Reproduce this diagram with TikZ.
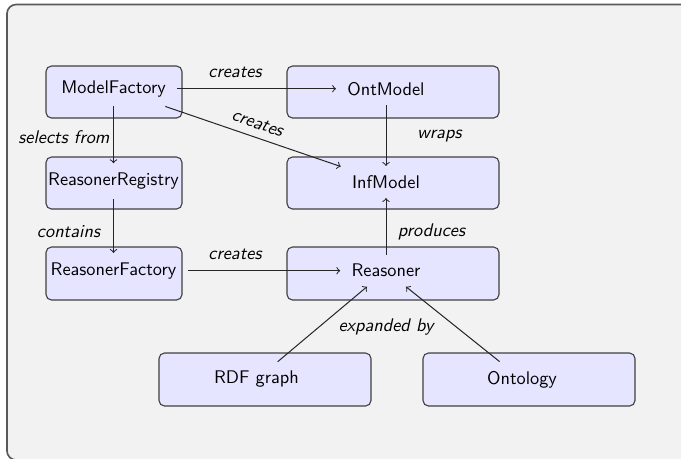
\documentclass[tikz,border=0pt]{standalone}
\begin{document}
\begin{tikzpicture}[x=0.546pt,y=-0.546pt,
 box/.style={draw=black!75, line width=0.6pt, fill=blue!10, rounded corners=3pt},
 txt/.style={inner xsep=6pt, inner ysep=5pt, font=\sffamily},
 lbl/.style={anchor=base, inner sep=0pt, font=\sffamily\itshape},
 con/.style={->, black!85, line width=0.55pt}]
\useasboundingbox (0,0) rectangle (681,458);
\clip (0,0) rectangle (681,458);
\draw[black!65, line width=0.9pt, fill=black!5, rounded corners=5pt] (7,4.5) rectangle (720,460);

% boxes
\draw[box] (46,66) rectangle (182,118);
\draw[box] (287,66) rectangle (499,118);
\draw[box] (46,157) rectangle (182,209);
\draw[box] (287,157) rectangle (499,209);
\draw[box] (46,247) rectangle (182,300);
\draw[box] (287,247) rectangle (499,300);
\draw[box] (159,353) rectangle (371,406);
\draw[box] (423,353) rectangle (635,406);

 \node (MF) at (113.5,88.7) [txt]{ModelFactory};
 \node (OM) at (386,88.7) [txt]{OntModel};
 \node (RR) at (113.5,181) [txt]{ReasonerRegistry};
 \node (IM) at (386,182) [txt]{InfModel};
 \node (RF) at (113.5,270.7) [txt]{ReasonerFactory};
 \node (RS) at (386,270.7) [txt]{Reasoner};
 \node (RG) at (256.5,379.5) [txt]{RDF graph};
 \node (ON) at (522,379.5) [txt]{Ontology};

\draw[con] (MF)--(OM);
\draw[con] (MF)--(IM);
\draw[con] (MF)--(RR);
\draw[con] (RR)--(RF);
\draw[con] (OM)--(IM);
\draw[con] (RF)--(RS);
\draw[con] (RS)--(IM);
\draw[con] (RG)--(RS);
\draw[con] (ON)--(RS);

 \node (L1) at (235,77.3) [lbl]{creates};
 \node (L2) at (257.5,123.5) [lbl, anchor=center, rotate=-19.3]{creates};
 \node (L3) at (64,143) [lbl]{selects from};
 \node (L4) at (68.5,237.3) [lbl]{contains};
 \node (L5) at (235,259.5) [lbl]{creates};
 \node (L6) at (439.5,138.5) [lbl]{wraps};
 \node (L7) at (431.5,236.7) [lbl]{produces};
 \node (L8) at (386,331.7) [lbl]{expanded by};

\end{tikzpicture}
\end{document}
